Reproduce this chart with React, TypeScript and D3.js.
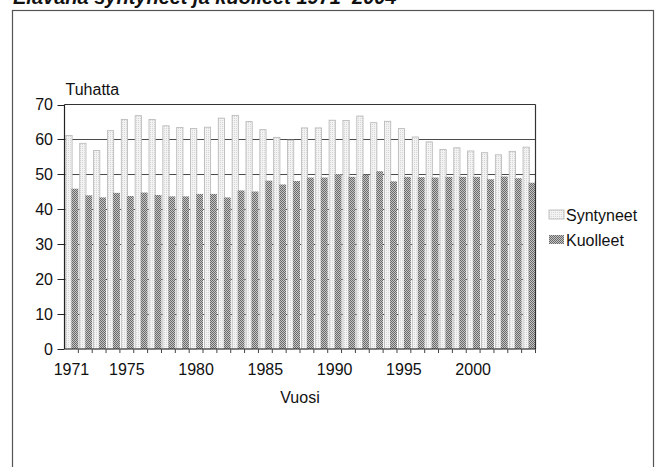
import React from "react";
import * as d3 from "d3";

const years: number[] = [
  1971, 1972, 1973, 1974, 1975, 1976, 1977, 1978, 1979, 1980,
  1981, 1982, 1983, 1984, 1985, 1986, 1987, 1988, 1989, 1990,
  1991, 1992, 1993, 1994, 1995, 1996, 1997, 1998, 1999, 2000,
  2001, 2002, 2003, 2004,
];
const syntyneet: number[] = [
  61.1, 58.9, 56.8, 62.5, 65.7, 66.8, 65.7, 63.9, 63.4, 63.1,
  63.5, 66.1, 66.9, 65.1, 62.8, 60.6, 59.8, 63.3, 63.3, 65.5,
  65.4, 66.7, 64.8, 65.2, 63.1, 60.7, 59.3, 57.1, 57.6, 56.7,
  56.2, 55.6, 56.6, 57.8,
];
const kuolleet: number[] = [
  45.9, 44.0, 43.4, 44.7, 43.8, 44.8, 44.1, 43.7, 43.7, 44.4,
  44.4, 43.4, 45.4, 45.1, 48.2, 47.1, 48.1, 49.1, 49.1, 50.1,
  49.3, 49.9, 50.9, 48.0, 49.3, 49.2, 49.1, 49.3, 49.3, 49.3,
  48.6, 49.4, 48.9, 47.6,
];
const yTicks: number[] = [0, 10, 20, 30, 40, 50, 60, 70];
const xLabelYears: number[] = [1971, 1975, 1980, 1985, 1990, 1995, 2000];
const seriesNames: string[] = ["Syntyneet", "Kuolleet"];
const title = "Elävänä syntyneet ja kuolleet 1971–2004";

const TEXT_FONT = "'Liberation Sans', Arial, sans-serif";
const NUM_FONT = "'Liberation Sans Narrow', 'Arial Narrow', 'Liberation Sans', sans-serif";

export default function App() {
  const W = 658;
  const H = 467;
  const plot = { left: 64.5, right: 535.5, top: 104.5, bottom: 349 };

  const x = d3
    .scaleBand<number>()
    .domain(years)
    .range([plot.left, plot.right])
    .padding(0);
  const y = d3.scaleLinear().domain([0, 70]).range([plot.bottom, plot.top]);
  const bw = x.bandwidth();

  return (
    <svg
      width={W}
      height={H}
      style={{ position: "absolute", left: 0, top: 0, background: "#fff" }}
    >
      <defs>
        <pattern id="pLight" width="2" height="2" patternUnits="userSpaceOnUse">
          <rect width="2" height="2" fill="#f3f3f3" />
          <rect width="1" height="1" fill="#d6d6d6" />
        </pattern>
        <pattern id="pDark" width="2" height="2" patternUnits="userSpaceOnUse">
          <rect width="2" height="2" fill="#c4c4c4" />
          <rect width="1" height="1" fill="#6a6a6a" />
          <rect x="1" y="1" width="1" height="1" fill="#6a6a6a" />
        </pattern>
      </defs>

      {/* title (cut off at top) */}
      <text
        x={13}
        y={3.5}
        fontFamily={TEXT_FONT}
        fontWeight="bold"
        fontStyle="italic"
        fontSize={20}
        fill="#111"
      >
        {title}
      </text>

      {/* outer frame */}
      <rect x={12.5} y={10.5} width={641} height={480} fill="none" stroke="#555" strokeWidth={1.2} />

      {/* gridlines */}
      {yTicks
        .filter((t) => t > 0 && t < 70)
        .map((t) => (
          <line
            key={"g" + t}
            x1={plot.left}
            x2={plot.right}
            y1={Math.round(y(t)) + 0.5}
            y2={Math.round(y(t)) + 0.5}
            stroke="#4a4a4a"
            strokeWidth={1}
          />
        ))}

      {/* bars: Syntyneet behind */}
      {years.map((yr, i) => (
        <rect
          key={"s" + yr}
          x={(x(yr) as number) + bw * 0.1}
          y={y(syntyneet[i])}
          width={bw * 0.45}
          height={plot.bottom - y(syntyneet[i])}
          fill="url(#pLight)"
          stroke="#b5b5b5"
          strokeWidth={0.8}
        />
      ))}
      {years.map((yr, i) => (
        <rect
          key={"k" + yr}
          x={(x(yr) as number) + bw * 0.5}
          y={y(kuolleet[i])}
          width={bw * 0.5}
          height={plot.bottom - y(kuolleet[i])}
          fill="url(#pDark)"
        />
      ))}

      {/* plot border top/right */}
      <line x1={plot.left} x2={plot.right} y1={plot.top} y2={plot.top} stroke="#333" strokeWidth={1.2} />
      <line x1={plot.right} x2={plot.right} y1={plot.top} y2={plot.bottom} stroke="#333" strokeWidth={1.2} />

      {/* y axis */}
      <line x1={plot.left} x2={plot.left} y1={plot.top} y2={plot.bottom} stroke="#222" strokeWidth={1.2} />
      {yTicks.map((t) => (
        <g key={"yt" + t}>
          <line
            x1={plot.left - 7}
            x2={plot.left}
            y1={Math.round(y(t)) + 0.5}
            y2={Math.round(y(t)) + 0.5}
            stroke="#222"
          />
          <text
            x={53}
            y={y(t)}
            dy="0.36em"
            textAnchor="end"
            fontFamily={NUM_FONT}
            fontSize={16}
            fill="#111"
          >
            {t}
          </text>
        </g>
      ))}

      {/* x axis */}
      <line x1={plot.left} x2={plot.right} y1={plot.bottom} y2={plot.bottom} stroke="#222" strokeWidth={1.2} />
      {years.map((yr) => (
        <line
          key={"xt" + yr}
          x1={(x(yr) as number) + bw}
          x2={(x(yr) as number) + bw}
          y1={plot.bottom}
          y2={plot.bottom + 4}
          stroke="#444"
        />
      ))}
      {xLabelYears.map((yr) => (
        <text
          key={"xl" + yr}
          x={(x(yr) as number) + bw / 2}
          y={375}
          textAnchor="middle"
          fontFamily={NUM_FONT}
          fontSize={16}
          fill="#111"
        >
          {yr}
        </text>
      ))}

      {/* axis titles */}
      <text x={65.5} y={95} fontFamily={TEXT_FONT} fontSize={16} fill="#111">
        Tuhatta
      </text>
      <text
        x={(plot.left + plot.right) / 2}
        y={403}
        textAnchor="middle"
        fontFamily={TEXT_FONT}
        fontSize={16}
        fill="#111"
      >
        Vuosi
      </text>

      {/* legend */}
      {seriesNames.map((name, i) => (
        <g key={"lg" + name} transform={`translate(549, ${210 + i * 25})`}>
          <rect
            x={0}
            y={0}
            width={15}
            height={9}
            fill={i === 0 ? "url(#pLight)" : "url(#pDark)"}
            stroke={i === 0 ? "#b5b5b5" : "none"}
            strokeWidth={0.8}
          />
          <text x={17} y={10.5} fontFamily={TEXT_FONT} fontSize={16} fill="#111">
            {name}
          </text>
        </g>
      ))}
    </svg>
  );
}
